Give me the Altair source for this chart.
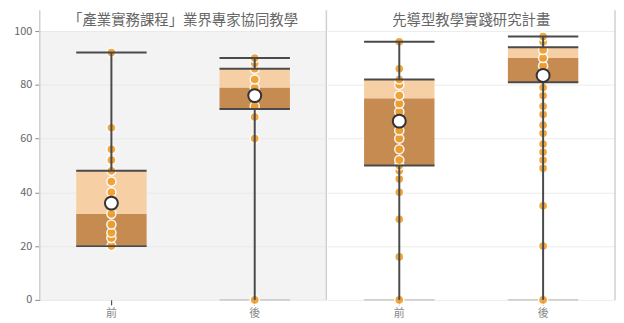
import altair as alt
import pandas as pd

panels = ["「產業實務課程」業界專家協同教學", "先導型教學實踐研究計畫"]
times = ["前", "後"]

# box statistics per (panel, time)
stat_panel = [panels[0], panels[0], panels[1], panels[1]]
stat_time = ["前", "後", "前", "後"]
stat_min = [20, 0, 0, 0]
stat_q1 = [20, 71, 50, 81]
stat_med = [32, 79, 75, 90]
stat_q3 = [48, 86, 82, 94]
stat_max = [92, 90, 96, 98]
stat_mean = [36, 76, 66.5, 83.5]

# individual scores
pts_a_pre = [20, 23, 25, 28, 32, 36, 40, 44, 48, 52, 56, 64, 92]
pts_a_post = [0, 60, 68, 72, 76, 79, 82, 86, 88, 90]
pts_b_pre = [0, 16, 30, 40, 45, 48, 50, 52, 56, 60, 63, 66, 70, 73, 76, 80, 82, 86, 96]
pts_b_post = [0, 20, 35, 49, 52, 55, 58, 62, 65, 69, 72, 76, 79, 83, 87, 90, 93, 96, 98]

stats = pd.DataFrame({
    "panel": stat_panel, "time": stat_time, "min": stat_min, "q1": stat_q1,
    "med": stat_med, "q3": stat_q3, "max": stat_max, "mean": stat_mean,
})

rows = []
for p, t, vals in [(panels[0], "前", pts_a_pre), (panels[0], "後", pts_a_post),
                   (panels[1], "前", pts_b_pre), (panels[1], "後", pts_b_post)]:
    for v in vals:
        rows.append({"panel": p, "time": t, "value": v})
points = pd.DataFrame(rows)

DARK = "#c68b50"
LIGHT = "#f6d0a4"
DOT = "#f09f2e"
LINE = "#4a4a4a"
BOXW = 71
H = 271
TOP = 21


def panel_chart(idx, width, fill, show_axis):
    s = stats[stats.panel == panels[idx]]
    p = points[points.panel == panels[idx]]
    xenc = alt.X("time:N", sort=times,
                 scale=alt.Scale(paddingInner=0, paddingOuter=0),
                 axis=alt.Axis(title=None, labelAngle=0, labelColor="#888",
                               labelFontSize=11, tickColor="#333", tickSize=5,
                               domain=False, labelPadding=3))
    if show_axis:
        yaxis = alt.Axis(title=None, values=[0, 20, 40, 60, 80, 100],
                         labelColor="#666", labelFontSize=11, tickColor="#888",
                         tickSize=5, domain=False, gridColor="#e9e9e9",
                         labelPadding=3)
    else:
        yaxis = alt.Axis(title=None, values=[0, 20, 40, 60, 80, 100],
                         labels=False, ticks=False, domain=False,
                         gridColor="#ececec")
    yscale = alt.Scale(domain=[0, 100], nice=False)

    base_s = alt.Chart(s)
    low = base_s.mark_bar(color=DARK, size=BOXW).encode(
        x=xenc, y=alt.Y("q1:Q", scale=yscale, axis=yaxis), y2="med:Q")
    high = base_s.mark_bar(color=LIGHT, size=BOXW).encode(
        x=xenc, y="med:Q", y2="q3:Q")
    mincap = base_s.mark_tick(color="#cfcfcf", thickness=2, size=BOXW,
                              opacity=1).encode(x=xenc, y="min:Q")
    dots = alt.Chart(p).mark_circle(size=85, color=DOT, opacity=0.9,
                                    stroke="white", strokeWidth=1.5).encode(
        x=xenc, y="value:Q")
    wlow = base_s.mark_rule(color=LINE, strokeWidth=2).encode(
        x=xenc, y="min:Q", y2="q1:Q")
    whigh = base_s.mark_rule(color=LINE, strokeWidth=2).encode(
        x=xenc, y="q3:Q", y2="max:Q")
    caps = base_s.transform_fold(["q1", "q3", "max"], as_=["k", "v"]).mark_tick(
        color=LINE, thickness=2, size=BOXW, opacity=1).encode(x=xenc, y="v:Q")
    mean = base_s.mark_point(filled=True, fill="white", stroke="#333",
                             strokeWidth=2, size=170, opacity=1).encode(
        x=xenc, y="mean:Q")
    border_data = alt.Data(values=[{"a": 1}])
    layers = [low, high, mincap, dots, wlow, whigh, caps, mean]
    if idx == 0:
        layers.append(alt.Chart(border_data).mark_rule(color="#d0d0d0", strokeWidth=1.5).encode(
            x=alt.value(0), y=alt.value(-TOP), y2=alt.value(H)))
    layers.append(alt.Chart(border_data).mark_rule(color="#d0d0d0", strokeWidth=1.5).encode(
        x=alt.value(width), y=alt.value(-TOP), y2=alt.value(H)))
    return alt.layer(*layers).properties(
        width=width, height=H,
        title=alt.TitleParams(panels[idx], fontSize=14.5, color="#666",
                              fontWeight="normal", offset=-19),
        view=alt.ViewBackground(fill=fill, stroke=None),
    )


left = panel_chart(0, 289, "#f3f3f3", True)
right = panel_chart(1, 290, "#ffffff", False)

chart = alt.hconcat(left, right, spacing=0).properties(
    padding={"left": 5, "top": 0, "right": 0, "bottom": 0}
).configure(font="Noto Sans CJK TC").configure_view(stroke=None)

chart.save("out.html", embed_options={"renderer": "svg", "actions": False})
